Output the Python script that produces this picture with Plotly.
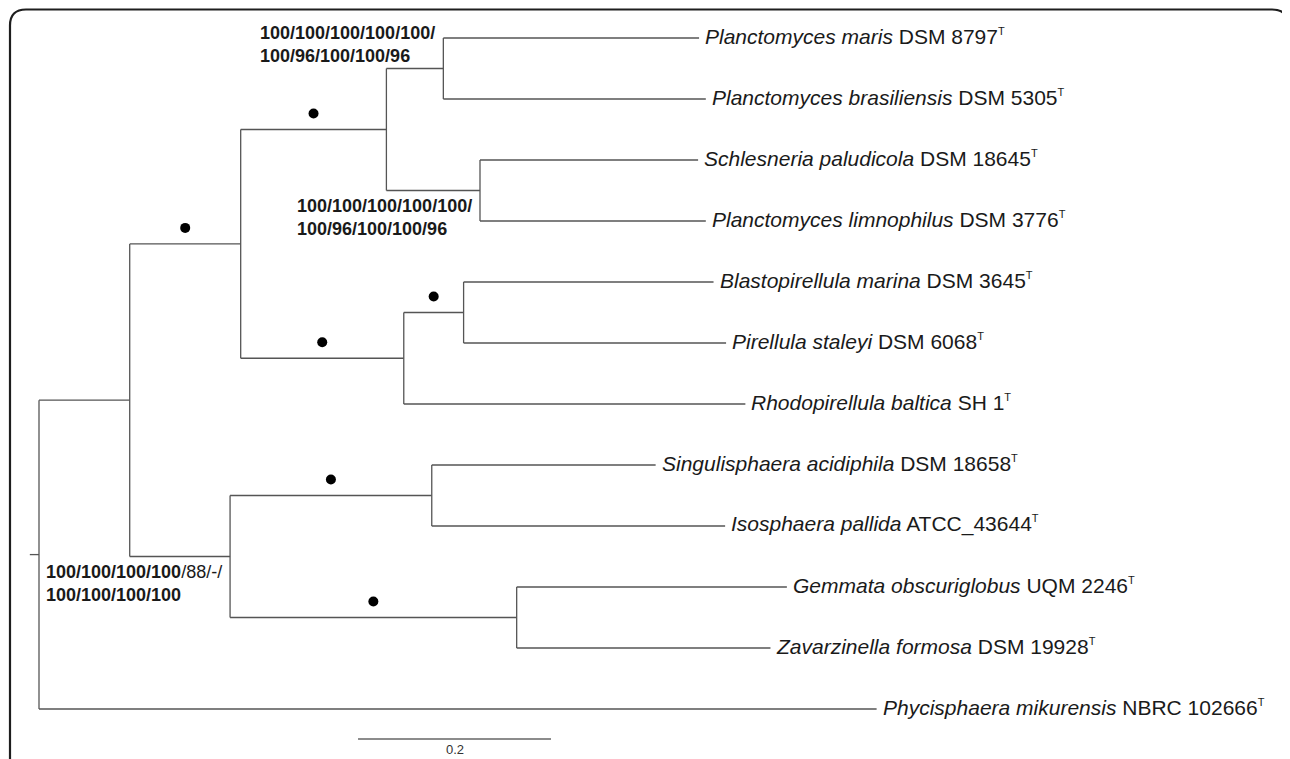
import plotly.graph_objects as go

# ---------------- data ----------------
# tree: node name, parent, branch length (substitutions per site)
node_names = ["A", "B", "C", "D", "maris", "brasil", "E", "schles", "limno",
              "F", "G", "blasto", "pirell", "rhodo",
              "H", "I", "singul", "iso", "J", "gemmata", "zavar", "phycis"]
node_parent = ["root", "A", "B", "C", "D", "D", "C", "E", "E",
               "B", "F", "G", "G", "F",
               "A", "H", "I", "I", "H", "J", "J", "root"]
branch_len = [0.094, 0.115, 0.151, 0.059, 0.265, 0.272, 0.097, 0.226, 0.234,
              0.169, 0.062, 0.259, 0.272, 0.354,
              0.104, 0.209, 0.232, 0.304, 0.297, 0.280, 0.263, 0.868]

# leaves in display order (top to bottom) and their labels
leaf_order = ["maris", "brasil", "schles", "limno", "blasto", "pirell", "rhodo",
              "singul", "iso", "gemmata", "zavar", "phycis"]
leaf_species = ["Planctomyces maris", "Planctomyces brasiliensis", "Schlesneria paludicola",
                "Planctomyces limnophilus", "Blastopirellula marina", "Pirellula staleyi",
                "Rhodopirellula baltica", "Singulisphaera acidiphila", "Isosphaera pallida",
                "Gemmata obscuriglobus", "Zavarzinella formosa", "Phycisphaera mikurensis"]
leaf_strain = ["DSM 8797", "DSM 5305", "DSM 18645", "DSM 3776", "DSM 3645", "DSM 6068",
               "SH 1", "DSM 18658", "ATCC_43644", "UQM 2246", "DSM 19928", "NBRC 102666"]

# nodes with full support (filled circle on the branch leading to them)
dot_nodes = ["C", "B", "F", "G", "I", "J"]

# bootstrap labels
support_nodes = ["D", "E", "H"]
support_text = ["<b>100/100/100/100/100/<br>100/96/100/100/96</b>",
                "<b>100/100/100/100/100/<br>100/96/100/100/96</b>",
                "<b>100/100/100/100</b>/88/-/<br><b>100/100/100/100</b>"]
support_side = ["above", "below", "below"]

scale_value = 0.2
scale_label = "0.2"

# ---------------- layout of the tree ----------------
parent = dict(zip(node_names, node_parent))
blen = dict(zip(node_names, branch_len))
children = {}
for n, p in zip(node_names, node_parent):
    children.setdefault(p, []).append(n)

depth = {"root": 0.0}
def get_depth(n):
    if n not in depth:
        depth[n] = get_depth(parent[n]) + blen[n]
    return depth[n]
for n in node_names:
    get_depth(n)

ypos = {leaf: i for i, leaf in enumerate(leaf_order)}
def get_y(n):
    if n not in ypos:
        ys = [get_y(c) for c in children[n]]
        ypos[n] = (min(ys) + max(ys)) / 2
    return ypos[n]
get_y("root")

xs, ys = [], []
for n in node_names:
    xs += [depth[parent[n]], depth[n], None]
    ys += [ypos[n], ypos[n], None]
for n, ch in children.items():
    cy = [ypos[c] for c in ch]
    xs += [depth[n], depth[n], None]
    ys += [min(cy), max(cy), None]
# root stub
xs += [-0.0095, 0, None]
ys += [ypos["root"], ypos["root"], None]

# the page body has an 8px margin: the figure is drawn 8px smaller and shifted
OFF = 8
W, H = 1290 - OFF, 759 - OFF
PX = 965.0          # pixels per unit
ROW = 61.0          # pixels per leaf row
x0_px, y0_px = 39.0 - OFF, 38.0 - OFF
x_range = [-x0_px / PX, (W - x0_px) / PX]
y_range = [(H - y0_px) / ROW, -y0_px / ROW]

line_col = "#555555"
fig = go.Figure()
fig.add_trace(go.Scatter(x=xs, y=ys, mode="lines",
                         line=dict(color=line_col, width=1.3),
                         hoverinfo="skip", showlegend=False))

# dots at branch midpoints, slightly above
dot_x = [(depth[parent[n]] + depth[n]) / 2 for n in dot_nodes]
dot_y = [ypos[n] - 16 / ROW for n in dot_nodes]
fig.add_trace(go.Scatter(x=dot_x, y=dot_y, mode="markers",
                         marker=dict(color="black", size=10),
                         hoverinfo="skip", showlegend=False))

# scale bar
sb_x0 = 0.3306
sb_y = 11.49
fig.add_trace(go.Scatter(x=[sb_x0, sb_x0 + scale_value], y=[sb_y, sb_y], mode="lines",
                         line=dict(color="#666666", width=1.5),
                         hoverinfo="skip", showlegend=False))

annotations = []
FONT = "Liberation Sans, Arial, sans-serif"
for leaf, sp, st in zip(leaf_order, leaf_species, leaf_strain):
    annotations.append(dict(
        x=depth[leaf], y=ypos[leaf], xref="x", yref="y",
        text=f"<i>{sp}</i> {st}<sup><span style='font-size:11px'>T</span></sup>",
        showarrow=False,
        xanchor="left", yanchor="middle", xshift=4, yshift=2,
        font=dict(family=FONT, size=21, color="#1a1a1a")))

for n, t, side in zip(support_nodes, support_text, support_side):
    annotations.append(dict(
        x=depth[n], y=ypos[n], xref="x", yref="y", text=t, showarrow=False,
        xanchor="right", align="left",
        yanchor="bottom" if side == "above" else "top",
        xshift=-6, yshift=0 if side == "above" else -3,
        font=dict(family=FONT, size=18, color="#1a1a1a")))

annotations.append(dict(
    x=sb_x0 + scale_value / 2, y=sb_y, xref="x", yref="y", text=scale_label,
    showarrow=False, xanchor="center", yanchor="top", yshift=-1,
    font=dict(family=FONT, size=13, color="#333333")))

# rounded frame (decoration), in pixel -> paper coords
def px(x): return x / W
def py(y): return 1 - y / H
fl, ft, fr = 10 - OFF, 9.5 - OFF, 1288 - OFF
frame_path = (f"M {px(fl)},{py(H + 5)} L {px(fl)},{py(ft + 16)} "
              f"Q {px(fl)},{py(ft)} {px(fl + 16)},{py(ft)} "
              f"L {px(fr - 16)},{py(ft)} Q {px(fr)},{py(ft)} {px(fr)},{py(ft + 16)} "
              f"L {px(fr)},{py(H + 5)}")

fig.update_layout(
    width=W, height=H,
    margin=dict(l=0, r=0, t=0, b=0),
    paper_bgcolor="white", plot_bgcolor="white",
    xaxis=dict(range=x_range, visible=False, showgrid=False, zeroline=False, fixedrange=True),
    yaxis=dict(range=y_range, visible=False, showgrid=False, zeroline=False, fixedrange=True),
    annotations=annotations,
    shapes=[dict(type="path", path=frame_path, xref="paper", yref="paper",
                 line=dict(color="#1e1e1e", width=2.2))],
    showlegend=False,
)

fig.write_html("out.html")
